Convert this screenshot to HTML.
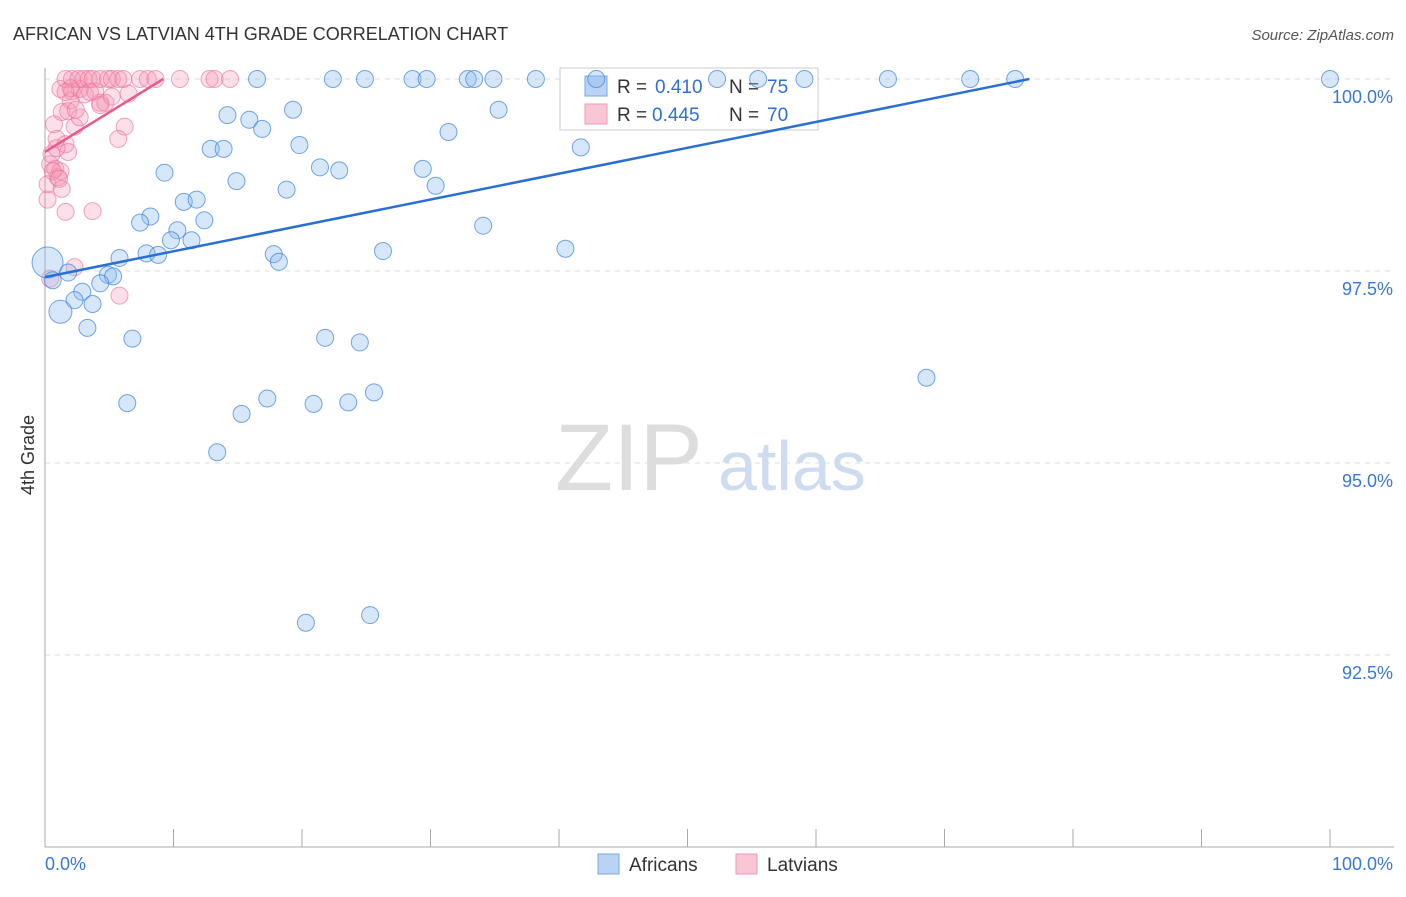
<!DOCTYPE html>
<html><head><meta charset="utf-8"><style>
body{margin:0;background:#fff;font-family:"Liberation Sans",sans-serif;}
svg text{font-family:"Liberation Sans",sans-serif;}
</style></head><body>
<svg id="chart" width="1406" height="892">
<text x="13" y="40" font-size="18" fill="#333">AFRICAN VS LATVIAN 4TH GRADE CORRELATION CHART</text>
<text x="1394" y="40" font-size="15" fill="#555" font-style="italic" text-anchor="end">Source: ZipAtlas.com</text>
<text transform="translate(34,455) rotate(-90)" font-size="18" fill="#333" text-anchor="middle">4th Grade</text>
<text x="555" y="490" font-size="95" fill="#ddd" font-family="Liberation Serif">ZIP</text>
<text x="718" y="490" font-size="70" fill="#cddcf0">atlas</text>
<g id="grid"></g>
<g>
<rect x="560" y="68" width="258" height="62" fill="#fff" stroke="#ccc"/>
<rect x="585" y="76" width="22" height="20" fill="#b9d3f5" stroke="#7aa7e0"/>
<rect x="585" y="104" width="22" height="20" fill="#f9c6d5" stroke="#ef9ab4"/>
<text x="617" y="93" font-size="19" fill="#333">R = <tspan x="655" fill="#2f6fd6">0.410</tspan><tspan x="729">N = </tspan><tspan x="767" fill="#2f6fd6">75</tspan></text>
<text x="617" y="121" font-size="19" fill="#333">R = <tspan x="652" fill="#2f6fd6">0.445</tspan><tspan x="729">N = </tspan><tspan x="767" fill="#2f6fd6">70</tspan></text>
</g>
<g id="marks"></g>
<g>
<rect x="598" y="854" width="21" height="20" fill="#b9d3f5" stroke="#7aa7e0"/>
<text x="629" y="871" font-size="19" fill="#333">Africans</text>
<rect x="736" y="854" width="21" height="20" fill="#f9c6d5" stroke="#ef9ab4"/>
<text x="767" y="871" font-size="19" fill="#333">Latvians</text>
</g>
</svg>
<script>
const yTicks=[100,97.5,95,92.5];
const yTickLabels=["100.0%","97.5%","95.0%","92.5%"];
const africansX=[16.5,22.4,24.9,28.6,29.7,32.9,33.4,34.9,38.2,52.3,55.5,59.1,65.6,72,75.5,100,42.9,19.3,35.3,14.2,15.9,16.9,31.4,19.8,12.9,13.9,41.7,9.3,21.4,22.9,29.4,14.9,30.4,18.8,10.8,11.8,8.2,7.4,12.4,34.1,10.3,9.8,11.4,5.8,7.9,8.8,17.8,18.2,26.3,40.5,0.2,1.8,4.9,5.3,0.6,4.3,2.9,2.3,3.7,1.2,3.3,6.8,21.8,24.5,25.6,6.4,15.3,17.3,20.9,23.6,13.4,68.6,20.3,25.3];
const africansY=[100,100,100,100,100,100,100,100,100,100,100,100,100,100,100,100,100,99.6,99.6,99.53,99.47,99.35,99.31,99.14,99.09,99.09,99.11,98.78,98.85,98.81,98.83,98.67,98.61,98.56,98.4,98.43,98.21,98.13,98.16,98.09,98.03,97.9,97.9,97.67,97.73,97.71,97.72,97.62,97.76,97.79,97.61,97.48,97.45,97.43,97.38,97.34,97.23,97.12,97.07,96.97,96.76,96.62,96.63,96.57,95.92,95.78,95.64,95.84,95.77,95.79,95.14,96.11,92.92,93.02];
const africansR=[9,9,9,9,9,9,9,9,9,9,9,9,9,9,9,9,9,9,9,9,9,9,9,9,9,9,9,9,9,9,9,9,9,9,9,9,9,9,9,9,9,9,9,9,9,9,9,9,9,9,16,9,9,9,9,9,9,9,9,12,9,9,9,9,9,9,9,9,9,9,9,9,9,9];
const latviansX=[0.2,0.2,0.4,0.5,0.7,0.8,0.9,1.2,1.3,1.6,1.8,1,1.2,1.3,1.6,2,2.1,2.3,2.7,3.1,3.9,4.3,4.7,6.5,6.2,5.7,3.7,2.3,5.8,0.4,1.6,2.1,2.6,3,3.4,3.7,4.3,4.9,5.2,5.7,6.1,7.4,8,8.6,10.5,12.8,13.2,14.4,2,1.6,3.5,4.3,5.2,1.8,2.7,0.6,1.1,0.9,2.4];
const latviansY=[98.43,98.63,98.89,99.02,99.41,98.83,99.22,99.87,99.57,99.15,99.05,98.72,98.8,98.57,98.27,99.72,99.84,99.38,99.87,99.8,99.84,99.69,99.69,99.81,99.38,99.22,98.28,97.55,97.18,97.4,100,100,100,100,100,100,100,100,100,100,100,100,100,100,100,100,100,100,99.88,99.83,99.83,99.66,99.77,99.58,99.5,98.8,98.7,99.1,99.6];
const xAt=v=>45+v*12.85;
const yAt=v=>79+(100-v)*76.8;
const NS="http://www.w3.org/2000/svg";
const grid=document.getElementById('grid'),marks=document.getElementById('marks');
function mk(tag,attrs,parent){const e=document.createElementNS(NS,tag);for(const k in attrs)e.setAttribute(k,attrs[k]);parent.appendChild(e);return e;}
yTicks.forEach((t,i)=>{
 const l=mk('line',{x1:45,x2:1394,y1:yAt(t),y2:yAt(t),stroke:'#ddd','stroke-dasharray':'5,5'},grid);
 
 
 const tx=mk('text',{x:1393,y:yAt(t)+24,'font-size':18,fill:'#3a78d6','text-anchor':'end'},grid);
 tx.textContent=yTickLabels[i];
 
 
});
const ax=mk('line',{x1:45,x2:45,y1:68,y2:847,stroke:'#aaa'},grid);


const bx=mk('line',{x1:45,x2:1394,y1:847,y2:847,stroke:'#aaa'},grid);


for(let i=0;i<=10;i++){const t=mk('line',{x1:xAt(i*10),x2:xAt(i*10),y1:829,y2:847,stroke:'#aaa'},grid);
 
 }
[["0.0%",45,"start"],["100.0%",1393,"end"]].forEach(a=>{const t=mk('text',{x:a[1],y:870,'font-size':18,fill:'#3a78d6','text-anchor':a[2]},grid);t.textContent=a[0];
 
 });
latviansX.forEach((x,i)=>{const c=mk('circle',{cx:xAt(x),cy:yAt(latviansY[i]),r:8.5,fill:'rgba(244,150,180,0.3)',stroke:'rgba(235,110,150,0.6)'},marks);
 
 });
africansX.forEach((x,i)=>{const c=mk('circle',{cx:xAt(x),cy:yAt(africansY[i]),r:africansR[i]-0.5,fill:'rgba(140,185,240,0.35)',stroke:'rgba(60,130,220,0.7)'},marks);
 
 });
const bl=mk('line',{x1:xAt(0),y1:yAt(97.42),x2:xAt(76.6),y2:yAt(100),stroke:'#2a6fd4','stroke-width':2.5},marks);


const pl=mk('line',{x1:xAt(0),y1:yAt(99.05),x2:xAt(9.2),y2:yAt(100),stroke:'#e85b8a','stroke-width':2.5},marks);


</script>
</body></html>
